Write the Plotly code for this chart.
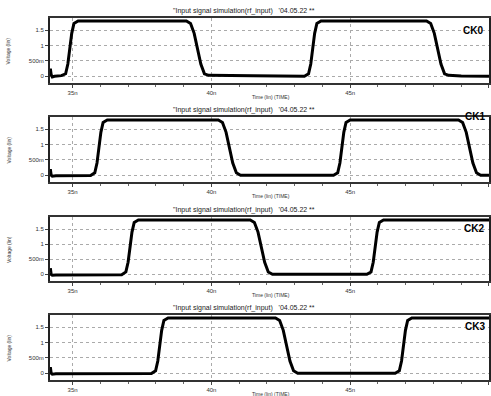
import plotly.graph_objects as go

# ---------------- data ----------------
ck0_t = [34.18, 34.20, 34.23, 34.27, 34.35,
         34.60, 34.75, 34.83, 34.90, 34.97, 35.05, 35.20,
         39.10, 39.25, 39.38, 39.50, 39.62, 39.75, 39.90,
         41.50,
         43.35, 43.50, 43.58, 43.65, 43.72, 43.80, 43.95,
         47.75, 47.90, 48.03, 48.15, 48.27, 48.40, 48.55,
         49.00, 50.00]
ck0_v = [0.05, 0.25, 0.05, -0.02, 0.0,
         0.02, 0.08, 0.40, 0.90, 1.40, 1.72, 1.80,
         1.80, 1.72, 1.40, 0.90, 0.40, 0.08, 0.03,
         0.02,
         0.0, 0.08, 0.40, 0.90, 1.40, 1.72, 1.80,
         1.80, 1.72, 1.40, 0.90, 0.40, 0.08, 0.03,
         0.01, 0.0]

ck1_t = [34.18, 34.20, 34.23, 34.27, 34.40,
         35.65, 35.80, 35.88, 35.95, 36.02, 36.10, 36.25,
         40.25, 40.40, 40.53, 40.65, 40.77, 40.90, 41.05,
         44.40, 44.55, 44.63, 44.70, 44.77, 44.85, 45.00,
         48.90, 49.05, 49.18, 49.30, 49.42, 49.55, 49.70,
         50.00]
ck1_v = [0.05, 0.20, 0.0, -0.03, -0.02,
         -0.01, 0.08, 0.40, 0.90, 1.40, 1.72, 1.80,
         1.80, 1.72, 1.40, 0.90, 0.40, 0.08, 0.0,
         0.0, 0.08, 0.40, 0.90, 1.40, 1.72, 1.80,
         1.80, 1.72, 1.40, 0.90, 0.40, 0.08, 0.0,
         0.0]

ck2_t = [34.18, 34.20, 34.23, 34.27, 34.40,
         36.77, 36.92, 37.00, 37.07, 37.14, 37.22, 37.37,
         41.40, 41.55, 41.68, 41.80, 41.92, 42.05, 42.20,
         45.60, 45.75, 45.83, 45.90, 45.97, 46.05, 46.20,
         50.00]
ck2_v = [0.05, 0.20, 0.0, -0.03, -0.02,
         -0.01, 0.08, 0.40, 0.90, 1.40, 1.72, 1.80,
         1.80, 1.72, 1.40, 0.90, 0.40, 0.08, 0.0,
         0.0, 0.08, 0.40, 0.90, 1.40, 1.72, 1.80,
         1.80]

ck3_t = [34.18, 34.20, 34.23, 34.27, 34.40,
         37.84, 37.99, 38.07, 38.14, 38.21, 38.29, 38.44,
         42.31, 42.46, 42.59, 42.71, 42.83, 42.96, 43.11,
         46.62, 46.77, 46.85, 46.92, 46.99, 47.07, 47.22,
         50.00]
ck3_v = [0.05, 0.20, 0.0, -0.03, -0.02,
         -0.01, 0.08, 0.40, 0.90, 1.40, 1.72, 1.80,
         1.80, 1.72, 1.40, 0.90, 0.40, 0.08, 0.0,
         0.0, 0.08, 0.40, 0.90, 1.40, 1.72, 1.80,
         1.80]

names = ["CK0", "CK1", "CK2", "CK3"]
series_t = [ck0_t, ck1_t, ck2_t, ck3_t]
series_v = [ck0_v, ck1_v, ck2_v, ck3_v]

x_tickvals = [35, 40, 45, 50]
x_ticktext = ["35n", "40n", "45n", "50n"]
y_tickvals = [0, 0.5, 1, 1.5]
y_ticktext = ["0", "500m", "1", "1.5"]
title_text = "\"Input signal simulation(rf_input)   '04.05.22 **"
x_title = "Time (lin) (TIME)"
y_title = "Voltage (lin)"

# ---------------- layout ----------------
W, H = 491, 396
panel_px = [(18, 83), (117, 182), (217, 281), (315, 380)]  # top,bottom pixel rows
label_px = [(487, 30), (489, 116), (488, 228), (489, 326)]
FONT = "Liberation Sans, Arial, sans-serif"

fig = go.Figure()
layout = dict(width=W, height=H, margin=dict(l=0, r=0, t=0, b=0),
              paper_bgcolor="white", plot_bgcolor="white", showlegend=False,
              font=dict(family=FONT, color="#222", size=7))
annotations = []

for i in range(4):
    sfx = "" if i == 0 else str(i + 1)
    top, bot = panel_px[i]
    dom_y = [1 - bot / H, 1 - top / H]
    fig.add_trace(go.Scatter(x=series_t[i], y=series_v[i], mode="lines",
                             line=dict(color="black", width=3),
                             xaxis="x" + sfx, yaxis="y" + sfx,
                             hoverinfo="skip"))
    layout["xaxis" + sfx] = dict(
        domain=[50 / W, 1.0], range=[34.18, 50.0], anchor="y" + sfx,
        tickmode="array", tickvals=x_tickvals, ticktext=x_ticktext,
        ticks="outside", ticklen=3, tickcolor="#444", tickwidth=1,
        minor=dict(dtick=1, tick0=35, ticks="outside", ticklen=2,
                   tickcolor="#666", showgrid=False),
        showgrid=True, gridcolor="#aaa", griddash="3px,3px", gridwidth=1,
        showline=True, linecolor="#333", linewidth=1.5, mirror=True,
        zeroline=False, tickfont=dict(size=6, family=FONT, color="#333"),
        fixedrange=True)
    layout["yaxis" + sfx] = dict(
        domain=dom_y, range=[-0.22, 1.9], anchor="x" + sfx,
        tickmode="array", tickvals=y_tickvals, ticktext=y_ticktext,
        ticks="outside", ticklen=3, tickcolor="#444",
        showgrid=True, gridcolor="#aaa", griddash="3px,3px", gridwidth=1,
        showline=True, linecolor="#222", linewidth=1.5, mirror=True,
        zeroline=False, tickfont=dict(size=6, family=FONT, color="#333"),
        fixedrange=True)
    # panel title
    annotations.append(dict(text=title_text, xref="paper", yref="paper",
                            x=245 / W, y=1 - (top - 7) / H, xanchor="center",
                            yanchor="middle", showarrow=False,
                            font=dict(size=7, family=FONT, color="#222")))
    # x axis title
    annotations.append(dict(text=x_title, xref="paper", yref="paper",
                            x=272 / W, y=1 - (bot + 14) / H, xanchor="center",
                            yanchor="middle", showarrow=False,
                            font=dict(size=5, family=FONT, color="#333")))
    # y axis title
    annotations.append(dict(text=y_title, xref="paper", yref="paper",
                            x=9 / W, y=1 - ((top + bot) / 2) / H,
                            xanchor="center", yanchor="middle", textangle=-90,
                            showarrow=False,
                            font=dict(size=5, family=FONT, color="#333")))
    # channel label
    lx, ly = label_px[i]
    annotations.append(dict(text="<b>" + names[i] + "</b>", xref="paper",
                            yref="paper", x=lx / W, y=1 - ly / H,
                            xanchor="right", yanchor="middle", showarrow=False,
                            font=dict(size=10, family=FONT, color="black")))

layout["annotations"] = annotations
fig.update_layout(**layout)
fig.write_html("out.html")
